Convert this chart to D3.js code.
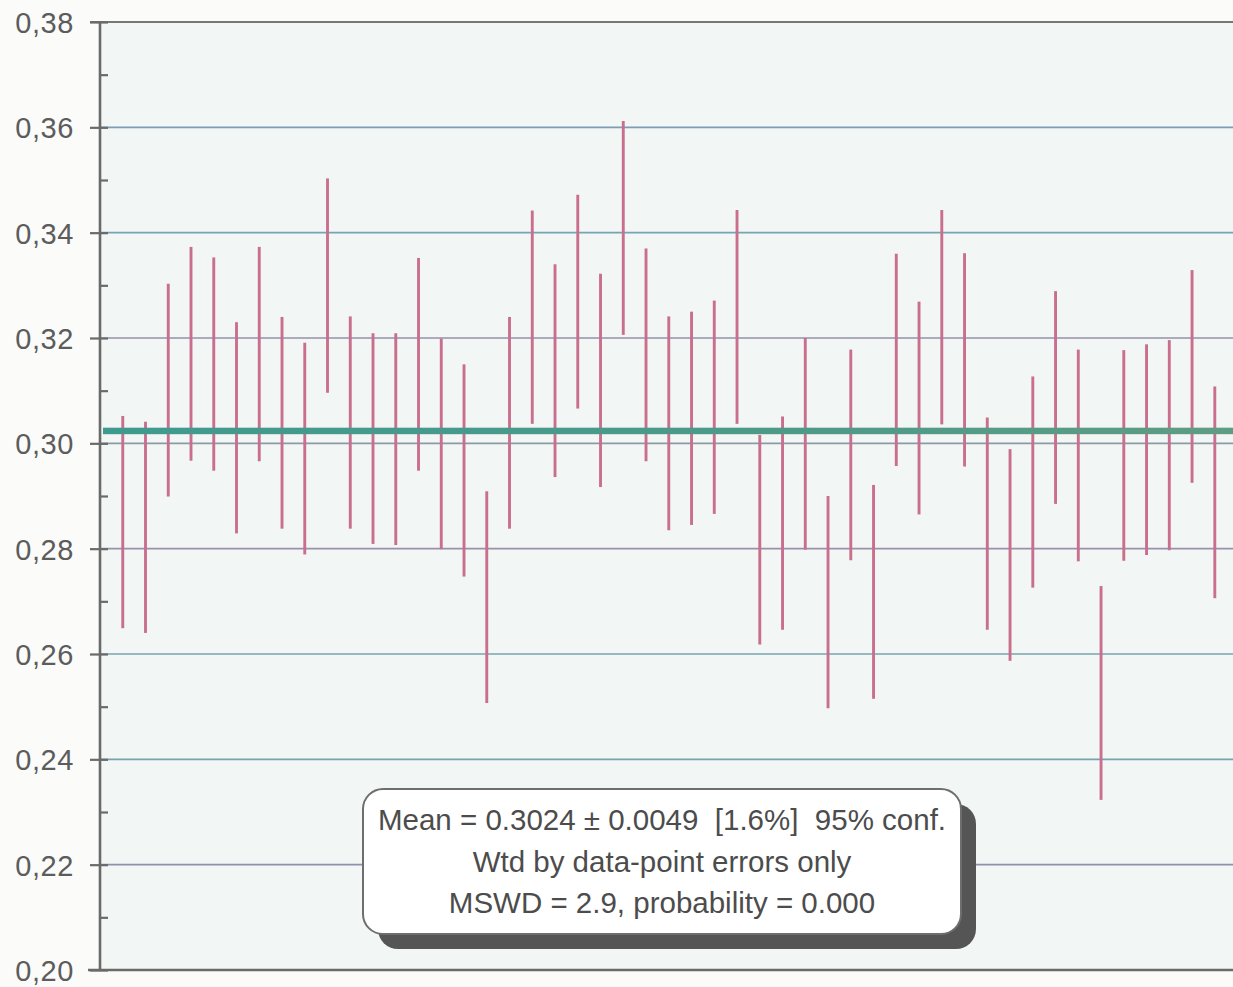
<!DOCTYPE html>
<html>
<head>
<meta charset="utf-8">
<script src="https://cdn.jsdelivr.net/npm/d3@7"></script>
<style>
  html, body { margin: 0; padding: 0; background: #fbfbfa; }
  svg { display: block; }
  .ylab text { font-family: "Liberation Sans", Arial, sans-serif; font-size: 29px; letter-spacing: 0.6px; fill: #5c5c5c; }
  .info { font-family: "Liberation Sans", Arial, sans-serif; font-size: 29.5px; fill: #4c4c4c; white-space: pre; }
</style>
</head>
<body>
<script>
// chart values
var analysisNo = [1,2,3,4,5,6,7,8,9,10,11,12,13,14,15,16,17,18,19,20,21,22,23,24,25,
                  26,27,28,29,30,31,32,33,34,35,36,37,38,39,40,41,42,43,44,45,46,47,48,49];
// upper end of each error bar
var barHi = [0.3052,0.3041,0.3303,0.3373,0.3353,0.3230,0.3373,0.3240,0.3191,0.3503,
             0.3241,0.3209,0.3209,0.3352,0.3199,0.3150,0.2909,0.3240,0.3442,0.3340,
             0.3472,0.3322,0.3612,0.3370,0.3241,0.3250,0.3271,0.3443,0.3016,0.3051,
             0.3200,0.2900,0.3178,0.2921,0.3360,0.3269,0.3443,0.3361,0.3049,0.2989,
             0.3127,0.3289,0.3178,0.2729,0.3177,0.3188,0.3196,0.3329,0.3108];
// lower end of each error bar
var barLo = [0.2649,0.2640,0.2899,0.2967,0.2948,0.2829,0.2966,0.2838,0.2789,0.3096,
             0.2838,0.2809,0.2807,0.2948,0.2799,0.2747,0.2507,0.2838,0.3037,0.2936,
             0.3066,0.2917,0.3206,0.2966,0.2835,0.2845,0.2866,0.3037,0.2618,0.2646,
             0.2798,0.2497,0.2778,0.2515,0.2957,0.2865,0.3036,0.2956,0.2646,0.2587,
             0.2726,0.2885,0.2776,0.2323,0.2777,0.2788,0.2797,0.2925,0.2706];
var meanValue = 0.3024;
var yMajor = [0.20,0.22,0.24,0.26,0.28,0.30,0.32,0.34,0.36,0.38];
var yMinor = [0.21,0.23,0.25,0.27,0.29,0.31,0.33,0.35,0.37];
var infoLines = ["Mean = 0.3024 \u00b1 0.0049  [1.6%]  95% conf.",
                 "Wtd by data-point errors only",
                 "MSWD = 2.9, probability = 0.000"];

var w = 1233, h = 987;
var plotLeft = 100, plotTop = 22, plotBottom = 970;

var svg = d3.select("body").append("svg")
    .attr("width", w)
    .attr("height", h);

var x = d3.scaleLinear().domain([0, 49.8]).range([plotLeft, w]);
var y = d3.scaleLinear().domain([0.20, 0.38]).range([plotBottom, plotTop]);

// comma decimal like the original
var fmt = d3.formatLocale({decimal: ",", thousands: ".", grouping: [3], currency: ["", ""]}).format(".2f");

// plot background
svg.append("rect")
    .attr("x", plotLeft).attr("y", plotTop)
    .attr("width", w - plotLeft).attr("height", plotBottom - plotTop)
    .style("fill", "#f2f6f4");

// gridlines, slightly different tints as in the scan
var gridColors = ["#8f8fa8", "#8f8fb0", "#7aa2ae", "#79a4b2", "#9a90aa", "#8c9aa6", "#9490aa", "#76a4b4", "#7d9cb6", "#777"];
svg.append("g").selectAll("line")
    .data(yMajor.filter(function(d){ return d > 0.2001 && d < 0.3799; }))
    .enter().append("line")
    .attr("x1", plotLeft).attr("x2", w)
    .attr("y1", function(d){ return y(d); })
    .attr("y2", function(d){ return y(d); })
    .style("stroke", function(d, i){ return gridColors[i + 1]; })
    .style("stroke-width", 1.6);

// top frame line
svg.append("line")
    .attr("x1", plotLeft - 10).attr("x2", w)
    .attr("y1", y(0.38)).attr("y2", y(0.38))
    .style("stroke", "#777").style("stroke-width", 2);

// error bars
svg.append("g").selectAll("line")
    .data(analysisNo)
    .enter().append("line")
    .attr("x1", function(d){ return x(d); })
    .attr("x2", function(d){ return x(d); })
    .attr("y1", function(d, i){ return y(barHi[i]); })
    .attr("y2", function(d, i){ return y(barLo[i]); })
    .style("stroke", "#c96f8d")
    .style("stroke-width", 2.9);

// weighted mean line
var grad = svg.append("defs").append("linearGradient").attr("id", "meanGrad");
grad.append("stop").attr("offset", "0%").attr("stop-color", "#3f9a8e");
grad.append("stop").attr("offset", "60%").attr("stop-color", "#4d9a88");
grad.append("stop").attr("offset", "100%").attr("stop-color", "#5f9c84");
svg.append("rect")
    .attr("x", plotLeft + 3).attr("width", w - plotLeft - 3)
    .attr("y", y(meanValue) - 3).attr("height", 6.5)
    .style("fill", "url(#meanGrad)");

// y axis with major ticks crossing the line
var yAxis = d3.axisLeft(y).tickValues(yMajor).tickFormat(fmt).tickSize(10).tickPadding(16);
var ax = svg.append("g")
    .attr("class", "ylab")
    .attr("transform", "translate(" + plotLeft + ",0)")
    .call(yAxis);
ax.select(".domain").remove();
ax.selectAll(".tick line").attr("x2", -10).attr("x1", 8)
    .style("stroke", "#6a6a6a").style("stroke-width", 2.2);
ax.selectAll(".tick text").attr("dy", "0.36em");

// minor ticks inside
var minor = svg.append("g")
    .attr("transform", "translate(" + plotLeft + ",0)")
    .call(d3.axisLeft(y).tickValues(yMinor).tickSize(-8).tickFormat(""));
minor.select(".domain").remove();
minor.selectAll(".tick line").style("stroke", "#6a6a6a").style("stroke-width", 2.2);

// axis lines
svg.append("line")
    .attr("x1", plotLeft).attr("x2", plotLeft)
    .attr("y1", plotTop).attr("y2", plotBottom)
    .style("stroke", "#6a6a6a").style("stroke-width", 2.6);
svg.append("line")
    .attr("x1", plotLeft - 12).attr("x2", w)
    .attr("y1", plotBottom).attr("y2", plotBottom)
    .style("stroke", "#6a6a6a").style("stroke-width", 2.6);

// result box with drop shadow
var bx = 363, by = 789, bw = 598, bh = 145;
svg.append("rect")
    .attr("x", bx + 15).attr("y", by + 15)
    .attr("width", bw).attr("height", bh)
    .attr("rx", 20)
    .style("fill", "#555");
svg.append("rect")
    .attr("x", bx).attr("y", by)
    .attr("width", bw).attr("height", bh)
    .attr("rx", 20)
    .style("fill", "#fff")
    .style("stroke", "#6e6e6e").style("stroke-width", 2);

svg.append("g").selectAll("text")
    .data(infoLines)
    .enter().append("text")
    .attr("class", "info")
    .attr("text-anchor", "middle")
    .attr("x", bx + bw / 2)
    .attr("y", function(d, i){ return 830 + i * 41.5; })
    .text(function(d){ return d; });
</script>
</body>
</html>
